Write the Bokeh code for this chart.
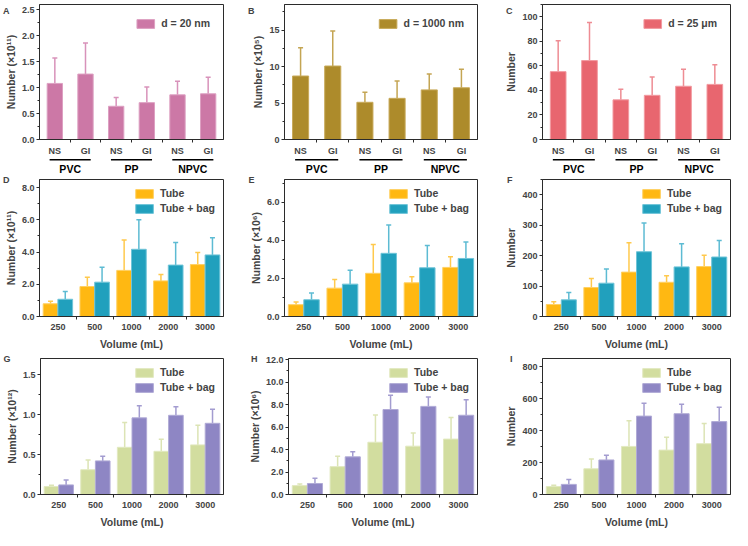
from bokeh.plotting import figure
from bokeh.layouts import column, row
from bokeh.models import (ColumnDataSource, Whisker, TeeHead, FixedTicker,
                          PrintfTickFormatter, Range1d, LinearAxis)
from bokeh.core.properties import value
from bokeh.embed import file_html
from bokeh.resources import INLINE

FONT = "Liberation Sans"

# ---------------- data ----------------
materials = ["PVC", "PP", "NPVC"]
sites = ["NS", "GI"]
volumes = ["250", "500", "1000", "2000", "3000"]
series_names = ["Tube", "Tube + bag"]
panel_letters = ["A", "B", "C", "D", "E", "F", "G", "H", "I"]

# Panels A-C, order: NS-PVC, GI-PVC, NS-PP, GI-PP, NS-NPVC, GI-NPVC
a_mean = [1.08, 1.26, 0.64, 0.71, 0.86, 0.88]
a_sd = [0.49, 0.60, 0.17, 0.30, 0.26, 0.32]
b_mean = [8.70, 10.07, 5.10, 5.64, 6.80, 7.09]
b_sd = [3.86, 4.81, 1.37, 2.36, 2.19, 2.52]
c_mean = [55.3, 64.3, 32.3, 36.0, 43.4, 44.9]
c_sd = [25.1, 31.0, 8.6, 14.9, 13.9, 16.1]

# Panels D-I: per volume
d_tube = [0.79, 1.86, 2.86, 2.21, 3.22]
d_tube_sd = [0.15, 0.58, 1.88, 0.40, 0.75]
d_bag = [1.07, 2.13, 4.17, 3.19, 3.82]
d_bag_sd = [0.48, 0.92, 1.84, 1.40, 1.07]

e_tube = [0.62, 1.49, 2.27, 1.77, 2.58]
e_tube_sd = [0.14, 0.45, 1.52, 0.32, 0.56]
e_bag = [0.88, 1.70, 3.32, 2.56, 3.05]
e_bag_sd = [0.35, 0.73, 1.49, 1.17, 0.86]

f_tube = [39.5, 95.2, 145.8, 112.4, 164.0]
f_tube_sd = [9.1, 29.4, 96.2, 21.3, 37.5]
f_bag = [54.7, 109.4, 212.7, 163.0, 195.4]
f_bag_sd = [24.3, 46.6, 94.1, 76.0, 54.6]

g_tube = [0.10, 0.31, 0.59, 0.54, 0.62]
g_tube_sd = [0.015, 0.12, 0.31, 0.15, 0.245]
g_bag = [0.12, 0.42, 0.958, 0.99, 0.89]
g_bag_sd = [0.06, 0.057, 0.152, 0.106, 0.175]

h_tube = [0.79, 2.48, 4.65, 4.30, 4.93]
h_tube_sd = [0.14, 0.92, 2.42, 1.17, 1.93]
h_bag = [0.98, 3.35, 7.56, 7.84, 7.05]
h_bag_sd = [0.46, 0.46, 1.26, 0.84, 1.39]

i_tube = [49.8, 160.8, 300.5, 277.5, 317.7]
i_tube_sd = [7.6, 61.2, 160.5, 80.5, 126.3]
i_bag = [63.2, 216.0, 490.0, 505.0, 455.5]
i_bag_sd = [30.6, 29.0, 80.0, 59.6, 89.5]

# ---------------- layout / style ----------------
COLS = [dict(width=245, left=32, right=22),
        dict(width=257, left=38, right=25),
        dict(width=230, left=36, right=2)]
ROWS = [dict(height=158, top=4, bottom=14),
        dict(height=178, top=5, bottom=33),
        dict(height=178, top=6, bottom=33)]
STRIP_H = 16

STYLE_A = dict(fill="#CC78A6", line="#DDA0C2", err="#D892BA")
STYLE_B = dict(fill="#AD8B2B", line="#C8AA5A", err="#C4A553")
STYLE_C = dict(fill="#E8666F", line="#F29AA0", err="#EE8C93")
STYLE_TUBE = dict(fill="#FFB812", line="#FFD062", err="#FFC94D")
STYLE_BAG = dict(fill="#21A0BD", line="#6FC4D8", err="#5DBBD3")
STYLE_TUBE2 = dict(fill="#D2DD9F", line="#E2E9C0", err="#DCE4B5")
STYLE_BAG2 = dict(fill="#8E86C4", line="#B0AAD6", err="#A39CD0")


def label_width(s):
    return sum(2.5 if ch == "." else 5.0 for ch in s)


def base_fig(r, c, xr, ymax, ystep, fmt, ylabel, letter, letter_frac):
    col, rw = COLS[c], ROWS[r]
    p = figure(width=col["width"], height=rw["height"],
               x_range=Range1d(*xr), y_range=Range1d(0, ymax),
               output_backend="svg", toolbar_location=None,
               min_border_left=col["left"], min_border_right=col["right"],
               min_border_top=rw["top"], min_border_bottom=rw["bottom"])
    p.xgrid.visible = False
    p.ygrid.visible = False
    p.outline_line_color = "#2b2b2b"
    p.outline_line_width = 1
    p.background_fill_color = "white"
    p.border_fill_color = "white"

    n = int(ymax / ystep + 1e-9)
    ticks = [k * ystep for k in range(n + 1)]
    minors = [(k + 0.5) * ystep for k in range(n + 1) if (k + 0.5) * ystep <= ymax]
    ya = p.yaxis[0]
    ya.ticker = FixedTicker(ticks=ticks, minor_ticks=minors)
    ya.formatter = PrintfTickFormatter(format=fmt)
    ya.axis_label = ylabel
    ya.axis_label_text_font = FONT
    ya.axis_label_text_font_style = "bold"
    ya.axis_label_text_font_size = "10.5px"
    ya.axis_label_standoff = 2
    ya.major_label_text_font = FONT
    ya.major_label_text_font_style = "bold"
    ya.major_label_text_font_size = "9px"
    ya.major_label_standoff = 2
    ya.major_tick_out = 3
    ya.major_tick_in = 0
    ya.minor_tick_out = 2
    ya.minor_tick_in = 0
    ya.axis_line_color = "#2b2b2b"
    ya.major_tick_line_color = "#2b2b2b"
    ya.minor_tick_line_color = "#2b2b2b"

    # panel letter, drawn as the only label of an extra, invisible left axis
    widest = max(label_width(fmt % t) for t in ticks)
    main_size = 3 + 2 + widest + 2 + 12
    ly = ymax * letter_frac
    lax = LinearAxis(ticker=FixedTicker(ticks=[ly], minor_ticks=[]),
                     major_label_overrides={ly: letter},
                     axis_line_color=None, major_tick_line_color=None,
                     minor_tick_line_color=None, major_tick_out=0, major_tick_in=0,
                     minor_tick_out=0, minor_tick_in=0,
                     major_label_standoff=int(round(24 - main_size)),
                     major_label_text_font=FONT, major_label_text_font_style="bold",
                     major_label_text_font_size="9px")
    p.add_layout(lax, "left")
    return p


def style_xaxis(p, centers, labels, axis_label, standoff):
    xa = p.xaxis[0]
    bounds = [(centers[k] + centers[k + 1]) / 2 for k in range(len(centers) - 1)]
    xa.ticker = FixedTicker(ticks=centers, minor_ticks=bounds)
    xa.major_label_overrides = {cx: lab for cx, lab in zip(centers, labels)}
    xa.major_label_text_font = FONT
    xa.major_label_text_font_style = "bold"
    xa.major_label_text_font_size = "9px"
    xa.major_label_standoff = standoff
    xa.major_tick_out = 0
    xa.major_tick_in = 0
    xa.minor_tick_out = 3
    xa.minor_tick_in = 0
    xa.axis_line_color = "#2b2b2b"
    xa.minor_tick_line_color = "#2b2b2b"
    if axis_label:
        xa.axis_label = axis_label
        xa.axis_label_text_font = FONT
        xa.axis_label_text_font_style = "bold"
        xa.axis_label_text_font_size = "10.5px"
        xa.axis_label_standoff = 5


def add_bars(p, xs, means, sds, width, st, label):
    src = ColumnDataSource(dict(x=xs, top=means,
                                upper=[m + s for m, s in zip(means, sds)]))
    p.vbar(x="x", top="top", width=width, source=src,
           fill_color=st["fill"], line_color=st["line"], line_width=1,
           legend_label=label)
    w = Whisker(source=src, base="x", lower="top", upper="upper",
                line_color=st["err"], line_width=1.5,
                upper_head=TeeHead(size=5, line_color=st["err"], line_width=1.5),
                lower_head=None)
    p.add_layout(w)


def style_legend(p, margin, padding):
    lg = p.legend[0]
    lg.location = "top_right"
    lg.margin = margin
    lg.padding = padding
    lg.spacing = 3
    lg.glyph_width = 22
    lg.glyph_height = 11
    lg.label_height = 11
    lg.label_standoff = 5
    lg.label_text_font = FONT
    lg.label_text_font_style = "bold"
    lg.label_text_font_size = "10.5px"
    lg.background_fill_alpha = 0
    lg.border_line_alpha = 0


# ----- top row -----
def top_panel(c, means, sds, st, leg, ymax, ystep, fmt, ylabel, letter):
    p = base_fig(0, c, (0.5, 6.5), ymax, ystep, fmt, ylabel, letter, 1 - 7.0 / 140)
    xs = [float(k + 1) for k in range(len(means))]
    add_bars(p, xs, means, sds, 0.5, st, leg)
    labels = [s for _ in materials for s in sites]
    style_xaxis(p, xs, labels, None, 3)
    style_legend(p, 11, 2)

    # strip below the panel: group underlines and material names
    col = COLS[c]
    s = figure(width=col["width"], height=STRIP_H, x_range=p.x_range,
               y_range=Range1d(0, STRIP_H), output_backend="svg",
               toolbar_location=None, x_axis_location=None, y_axis_location=None,
               min_border_left=col["left"], min_border_right=col["right"],
               min_border_top=0, min_border_bottom=0)
    s.outline_line_color = None
    s.xgrid.visible = False
    s.ygrid.visible = False
    s.background_fill_color = "white"
    s.border_fill_color = "white"
    x0 = [xs[2 * g] - 0.17 for g in range(len(materials))]
    x1 = [xs[2 * g + 1] + 0.17 for g in range(len(materials))]
    xm = [(xs[2 * g] + xs[2 * g + 1]) / 2 for g in range(len(materials))]
    s.segment(x0=x0, y0=[STRIP_H - 1.2] * len(materials), x1=x1,
              y1=[STRIP_H - 1.2] * len(materials), line_color="black", line_width=1.6)
    s.text(x=xm, y=[STRIP_H - 4.5] * len(materials), text=materials,
           text_align="center", text_baseline="top", text_font=value(FONT),
           text_font_style="bold", text_font_size="10.5px", text_color="black")
    return column(p, s, spacing=0)


cA = top_panel(0, a_mean, a_sd, STYLE_A, "d = 20 nm", 2.6, 0.5, "%.1f", "Number (×10¹¹)", panel_letters[0])
cB = top_panel(1, b_mean, b_sd, STYLE_B, "d = 1000 nm", 18.5, 5, "%d", "Number (×10⁵)", panel_letters[1])
cC = top_panel(2, c_mean, c_sd, STYLE_C, "d = 25 μm", 110, 20, "%d", "Number", panel_letters[2])


def vol_panel(r, c, tube, tube_sd, bag, bag_sd, st1, st2, ymax, ystep, fmt, ylabel, letter):
    p = base_fig(r, c, (0.5, 5.5), ymax, ystep, fmt, ylabel, letter, 0.999)
    xs = [float(k + 1) for k in range(len(volumes))]
    add_bars(p, [x - 0.2 for x in xs], tube, tube_sd, 0.4, st1, series_names[0])
    add_bars(p, [x + 0.2 for x in xs], bag, bag_sd, 0.4, st2, series_names[1])
    style_xaxis(p, xs, volumes, "Volume (mL)", 4)
    style_legend(p, 6, 2)
    return p


pD = vol_panel(1, 0, d_tube, d_tube_sd, d_bag, d_bag_sd, STYLE_TUBE, STYLE_BAG, 8.5, 2.0, "%.1f", "Number (×10¹¹)", panel_letters[3])
pE = vol_panel(1, 1, e_tube, e_tube_sd, e_bag, e_bag_sd, STYLE_TUBE, STYLE_BAG, 7.2, 2.0, "%.1f", "Number (×10⁶)", panel_letters[4])
pF = vol_panel(1, 2, f_tube, f_tube_sd, f_bag, f_bag_sd, STYLE_TUBE, STYLE_BAG, 450, 100, "%d", "Number", panel_letters[5])
pG = vol_panel(2, 0, g_tube, g_tube_sd, g_bag, g_bag_sd, STYLE_TUBE2, STYLE_BAG2, 1.7, 0.5, "%.1f", "Number (×10¹²)", panel_letters[6])
pH = vol_panel(2, 1, h_tube, h_tube_sd, h_bag, h_bag_sd, STYLE_TUBE2, STYLE_BAG2, 12.1, 2.0, "%.1f", "Number (×10⁶)", panel_letters[7])
pI = vol_panel(2, 2, i_tube, i_tube_sd, i_bag, i_bag_sd, STYLE_TUBE2, STYLE_BAG2, 850, 200, "%d", "Number", panel_letters[8])

layout = column(row(cA, cB, cC), row(pD, pE, pF), row(pG, pH, pI))

with open("out.html", "w") as fh:
    fh.write(file_html(layout, INLINE))
